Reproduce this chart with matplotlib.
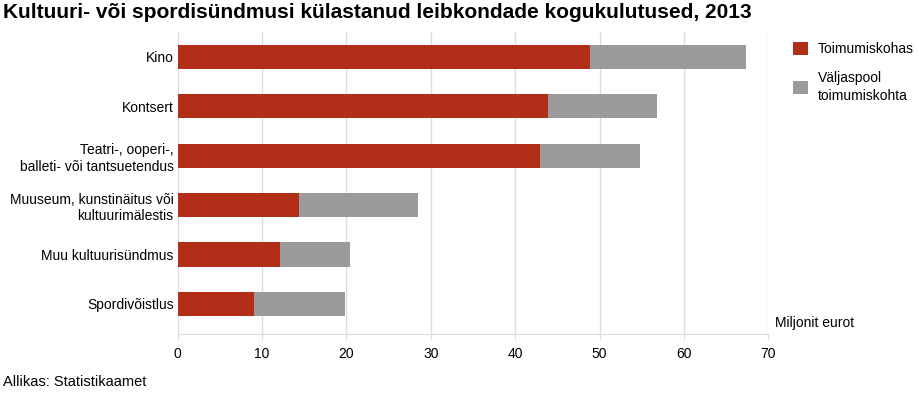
import matplotlib.pyplot as plt

plt.rcParams['font.family'] = ['Liberation Sans', 'DejaVu Sans']

categories = ["Kino", "Kontsert", "Teatri-, ooperi-,\nballeti- või tantsuetendus",
              "Muuseum, kunstinäitus või\nkultuurimälestis", "Muu kultuurisündmus", "Spordivõistlus"]
kohas = [48.9, 43.9, 43.0, 14.4, 12.1, 9.1]
totals = [67.4, 56.8, 54.8, 28.5, 20.4, 19.8]
valjaspool = [t - k for t, k in zip(totals, kohas)]
xticks = [0, 10, 20, 30, 40, 50, 60, 70]

RED = "#B22E18"
GREY = "#9B9B9B"

fig = plt.figure(figsize=(9.2, 3.94), dpi=100)
ax = fig.add_axes([177.7 / 920, 1 - 334 / 394, (768.3 - 177.7) / 920, (334 - 32.3) / 394])

y = list(range(len(categories)))
ax.barh(y, kohas, height=0.49, color=RED, label="Toimumiskohas", zorder=3)
ax.barh(y, valjaspool, left=kohas, height=0.49, color=GREY,
        label="Väljaspool\ntoimumiskohta", zorder=3)

ax.set_xlim(0, 70)
ax.set_ylim(5.61, -0.5)
ax.set_xticks(xticks)
ax.set_yticks(y)
ax.set_yticklabels(categories, fontsize=10, linespacing=1.25)
ax.tick_params(axis='y', length=0, pad=3)
ax.tick_params(axis='x', labelsize=10, length=4, color="#dddddd", pad=5)
ax.xaxis.grid(True, color="#dddddd", linewidth=1, zorder=0)
for s in ["top", "right", "left"]:
    ax.spines[s].set_visible(False)
ax.spines["bottom"].set_color("#dddddd")

ax.text(775 / 920, 1 - 323 / 394, "Miljonit eurot", transform=fig.transFigure, fontsize=10,
        ha="left", va="center")

leg = fig.legend(loc="upper left", bbox_to_anchor=(787 / 920, 1 - 36 / 394), frameon=False,
                 fontsize=10, handlelength=1.1, handleheight=1.1, labelspacing=1.1,
                 handletextpad=0.7, borderaxespad=0)
for t in leg.get_texts():
    t.set_linespacing(1.3)

fig.text(3 / 920, 1 - 13 / 394, "Kultuuri- või spordisündmusi külastanud leibkondade kogukulutused, 2013",
         fontsize=15, fontweight="bold", ha="left", va="center")
fig.text(3 / 920, 1 - 382 / 394, "Allikas: Statistikaamet", fontsize=10.5, ha="left", va="center")

fig.savefig("out.png", dpi=100)
